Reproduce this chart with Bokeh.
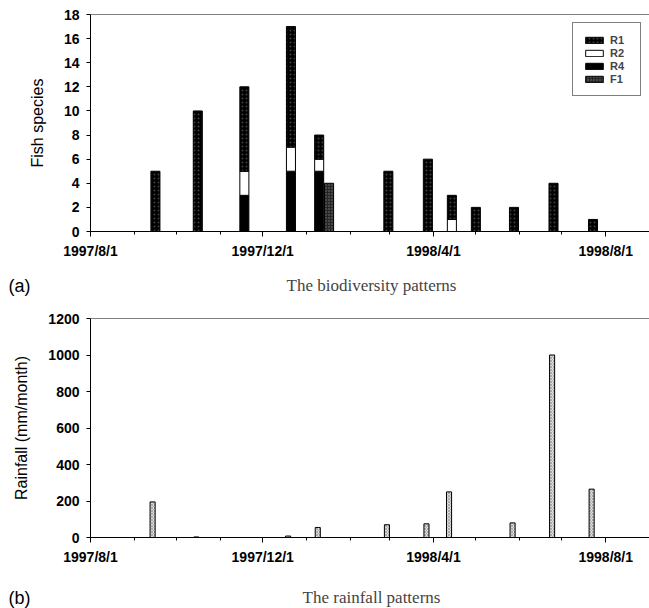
import pandas as pd
from bokeh.plotting import figure
from bokeh.layouts import column
from bokeh.models import FixedTicker, Span, Legend, LegendItem, Label, ColumnDataSource, Range1d
from bokeh.embed import file_html
from bokeh.resources import INLINE

# ---- data ----
fish_dates = ["1997-09-16", "1997-10-16", "1997-11-18", "1997-12-21", "1998-01-10",
              "1998-02-28", "1998-03-28", "1998-04-14", "1998-05-01", "1998-05-28",
              "1998-06-25", "1998-07-23"]
r4 = [0, 0, 3, 5, 5, 0, 0, 0, 0, 0, 0, 0]
r2 = [0, 0, 2, 2, 1, 0, 0, 1, 0, 0, 0, 0]
r1 = [5, 10, 7, 10, 2, 5, 6, 2, 2, 2, 4, 1]
f1_dates = ["1998-01-17"]
f1 = [4]

rain_dates = ["1997-09-14", "1997-10-15", "1997-12-19", "1998-01-09", "1998-02-27",
              "1998-03-27", "1998-04-12", "1998-05-27", "1998-06-24", "1998-07-22"]
rain = [195, 3, 8, 55, 70, 75, 250, 80, 1000, 265]

tick_dates = ["1997-08-01", "1997-12-01", "1998-04-01", "1998-08-01"]
tick_labels = ["1997/8/1", "1997/12/1", "1998/4/1", "1998/8/1"]
x_start, x_end = "1997-08-01", "1998-09-01"

origin = pd.Timestamp(x_start)
def day(d):
    return (pd.Timestamp(d) - origin).days

major = [day(d) for d in tick_dates]
minor = [day(d) for d in pd.date_range(x_start, x_end, freq="MS")]
overrides = {m: l for m, l in zip(major, tick_labels)}

TICK_FONT = "Liberation Sans"


def base_fig(ymax, ystep, top, frame_h, bottom, ylabel):
    p = figure(frame_width=559, frame_height=frame_h,
               x_range=Range1d(0, day(x_end)), y_range=Range1d(0, ymax),
               output_backend="svg", toolbar_location=None,
               min_border_left=90, min_border_right=0,
               min_border_top=top, min_border_bottom=bottom)
    p.grid.visible = False
    p.outline_line_color = None
    p.background_fill_color = "white"
    p.border_fill_color = "white"
    p.xaxis.ticker = FixedTicker(ticks=major, minor_ticks=minor)
    p.xaxis.major_label_overrides = overrides
    p.xaxis.major_tick_out = 5
    p.xaxis.major_tick_in = 0
    p.xaxis.minor_tick_out = 3
    p.xaxis.minor_tick_in = 0
    p.yaxis.ticker = FixedTicker(ticks=list(range(0, ymax + 1, ystep)), minor_ticks=[])
    p.yaxis.major_tick_out = 4
    p.yaxis.major_tick_in = 0
    p.yaxis.minor_tick_line_color = None
    for ax in (p.xaxis, p.yaxis):
        ax.axis_line_color = "black"
        ax.major_tick_line_color = "black"
        ax.major_label_text_font = TICK_FONT
        ax.major_label_text_font_size = "14px"
        ax.major_label_text_font_style = "bold"
        ax.major_label_text_color = "black"
        ax.axis_label_text_color = "black"
    p.xaxis.minor_tick_line_color = "black"
    p.xaxis.major_label_standoff = 6
    p.yaxis.major_label_standoff = 7
    p.yaxis.axis_label = ylabel
    p.yaxis.axis_label_text_font = "Liberation Sans"
    p.yaxis.axis_label_text_font_size = "16px"
    p.yaxis.axis_label_text_font_style = "normal"
    p.yaxis.axis_label_standoff = 15
    p.add_layout(Span(location=ymax, dimension="width", line_color="black", line_width=1))
    return p


def caption_fig(height, tag, caption, ymid):
    c = figure(frame_width=559, frame_height=height, x_range=Range1d(0, 559),
               y_range=Range1d(0, height), output_backend="svg", toolbar_location=None,
               x_axis_location=None, y_axis_location="left",
               min_border_left=90, min_border_right=0, min_border_top=0, min_border_bottom=0)
    c.grid.visible = False
    c.outline_line_color = None
    c.yaxis.ticker = FixedTicker(ticks=[ymid], minor_ticks=[])
    c.yaxis.major_label_overrides = {ymid: tag}
    c.yaxis.axis_line_color = None
    c.yaxis.major_tick_line_color = None
    c.yaxis.minor_tick_line_color = None
    c.yaxis.major_tick_out = 0
    c.yaxis.major_tick_in = 0
    c.yaxis.major_label_standoff = 60
    c.yaxis.major_label_text_font = TICK_FONT
    c.yaxis.major_label_text_font_size = "18px"
    c.yaxis.major_label_text_color = "black"
    c.add_layout(Label(x=281, y=ymid, x_units="screen", y_units="screen", text=caption,
                       text_font="Liberation Serif", text_font_size="17px",
                       text_align="center", text_baseline="middle"))
    return c


# ---- (a) biodiversity ----
pa = base_fig(18, 2, 14, 217, 39, "Fish species")
src = ColumnDataSource(dict(x=[day(d) for d in fish_dates], R4=r4, R2=r2, R1=r1))
w = 6.4
rend = pa.vbar_stack(["R4", "R2", "R1"], x="x", width=w, source=src,
                     fill_color=["black", "white", "black"],
                     line_color="black", line_width=1)
rend[2].glyph.hatch_pattern = "dot"
rend[2].glyph.hatch_color = "#404040"
rend[2].glyph.hatch_scale = 4
rf1 = pa.vbar(x=[day(d) for d in f1_dates], top=f1, width=w, fill_color="#262626",
              line_color="black", line_width=1, hatch_pattern="dot",
              hatch_color="#7a7a7a", hatch_scale=3)
legend = Legend(items=[LegendItem(label="R1", renderers=[rend[2]]),
                       LegendItem(label="R2", renderers=[rend[1]]),
                       LegendItem(label="R4", renderers=[rend[0]]),
                       LegendItem(label="F1", renderers=[rf1])],
                location="top_right")
legend.margin = 8
legend.padding = 10
legend.spacing = 0
legend.glyph_width = 22
legend.glyph_height = 8
legend.label_height = 13
legend.label_standoff = 5
legend.label_text_font = TICK_FONT
legend.label_text_font_size = "11px"
legend.label_text_font_style = "bold"
legend.border_line_color = "black"
legend.border_line_width = 1
legend.background_fill_alpha = 1
pa.add_layout(legend)
ca = caption_fig(35, "(a)", "The biodiversity patterns", 20)

# ---- (b) rainfall ----
pb = base_fig(1200, 200, 13, 219, 38, "Rainfall (mm/month)")
pb.vbar(x=[day(d) for d in rain_dates], top=rain, width=3.6, fill_color="#dcdcdc",
        line_color="black", line_width=1, hatch_pattern="diagonal_cross",
        hatch_color="#8a8a8a", hatch_scale=3, hatch_weight=0.6)
cb = caption_fig(33, "(b)", "The rainfall patterns", 11)

layout = column(pa, ca, pb, cb, spacing=0)
open("out.html", "w").write(file_html(layout, INLINE))
